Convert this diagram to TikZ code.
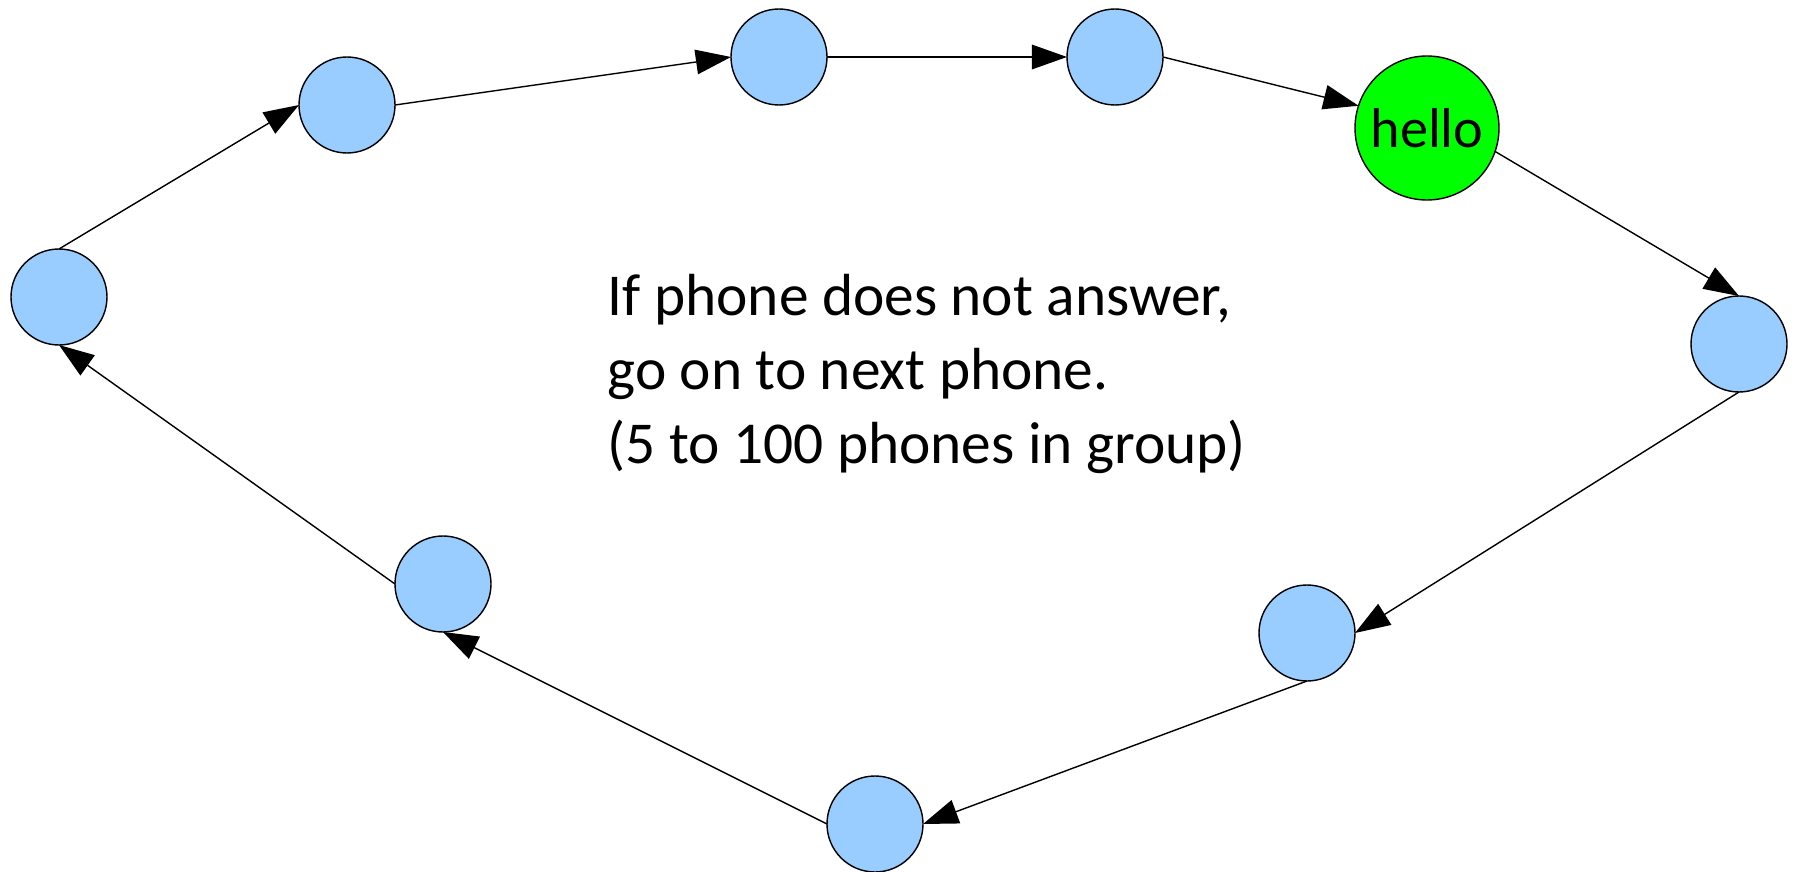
\documentclass[tikz,border=0pt]{standalone}
\usepackage{fontspec}
\setmainfont{Carlito}
\usetikzlibrary{arrows.meta}

\definecolor{phoneblue}{HTML}{99CCFF}
\definecolor{pickup}{HTML}{00FF00}

\begin{document}
\begin{tikzpicture}[
  every node/.style={font=\fontsize{16}{20}\selectfont},
  phone/.style={circle, draw, line width=0.4pt, fill=phoneblue, minimum size=0.96cm, inner sep=0pt, outer sep=0pt},
  answered/.style={circle, draw, line width=0.4pt, fill=pickup, minimum size=1.44cm, inner sep=0pt, outer sep=0pt},
  hop/.style={line width=0.4pt, -{Triangle[length=10pt, width=7pt]}},
]
\useasboundingbox (0,0) rectangle (17.95,-8.72);

% ── phones in the hunt group ──
\node[phone] (p1) at ( 0.59,-2.97) {};
\node[phone] (p2) at ( 3.47,-1.05) {};
\node[phone] (p3) at ( 7.79,-0.57) {};
\node[phone] (p4) at (11.15,-0.57) {};
\node[answered] (hello) at (14.27,-1.28) {hello};
\node[phone] (p6) at (17.39,-3.44) {};
\node[phone] (p7) at (13.07,-6.33) {};
\node[phone] (p8) at ( 8.75,-8.24) {};
\node[phone] (p9) at ( 4.43,-5.84) {};

% ── ring order ──
\draw[hop] (p1.north) -- (p2.west);
\draw[hop] (p2.east)  -- (p3.west);
\draw[hop] (p3.east)  -- (p4.west);
\draw[hop] (p4.east)  -- (hello.162);
\draw[hop] (hello.-19) -- (p6.north);
\draw[hop] (p6.south) -- (p7.east);
\draw[hop] (p7.south) -- (p8.east);
\draw[hop] (p8.west)  -- (p9.south);
\draw[hop] (p9.west)  -- (p1.south);

\node[anchor=west, align=left, inner sep=0pt, font=\fontsize{16.9}{21.1}\selectfont] (note) at (6.07,-3.74)
  {If phone does not answer,\\go on to next phone.\\(5 to 100 phones in group)};

\end{tikzpicture}
\end{document}
